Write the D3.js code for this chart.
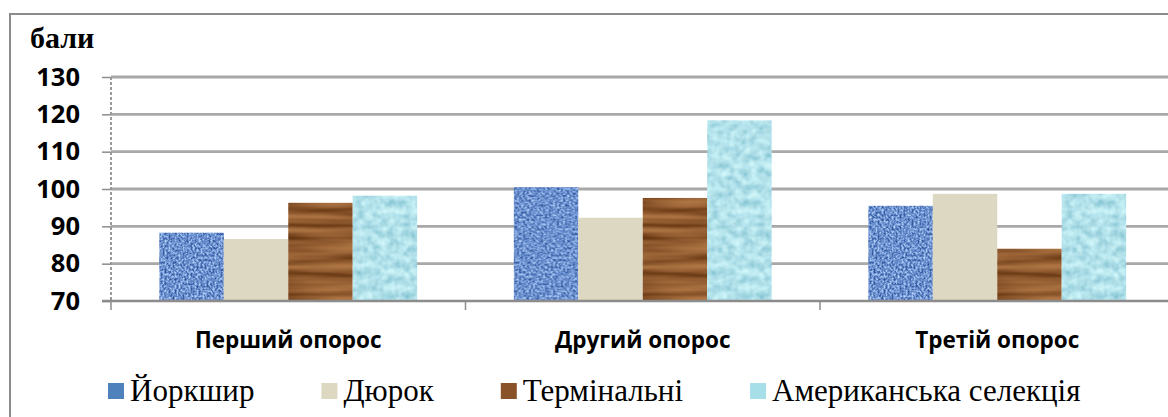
<!DOCTYPE html>
<html>
<head>
<meta charset="utf-8">
<script src="https://cdn.jsdelivr.net/npm/d3@7"></script>
<style>
  html, body { margin: 0; padding: 0; background: #fff; }
  svg { display: block; }
</style>
</head>
<body>
<svg id="chart" width="1168" height="417"></svg>
<script>
// Farrowing scores by breed group
const categories = ["Перший опорос", "Другий опорос", "Третій опорос"];
const seriesNames = ["Йоркшир", "Дюрок", "Термінальні", "Американська селекція"];
const yorkshire = [88.3, 100.5, 95.5];
const duroc = [86.6, 92.3, 98.7];
const terminal = [96.3, 97.6, 84.0];
const american = [98.2, 118.4, 98.7];
const yTicks = [70, 80, 90, 100, 110, 120, 130];
const yTitle = "бали";

const seriesValues = [yorkshire, duroc, terminal, american];
const svg = d3.select("#chart");
const W = 1168, H = 417;

// ---- textures for bar fills ----
const defs = svg.append("defs");

function noiseTexture(id, freq, octaves, seed, rTab, gTab, bTab) {
  const f = defs.append("filter")
    .attr("id", id + "-flt")
    .attr("filterUnits", "userSpaceOnUse")
    .attr("x", 0).attr("y", 0).attr("width", W).attr("height", H)
    .attr("color-interpolation-filters", "sRGB");
  f.append("feTurbulence")
    .attr("type", "fractalNoise")
    .attr("baseFrequency", freq)
    .attr("numOctaves", octaves)
    .attr("seed", seed)
    .attr("result", "noise");
  f.append("feColorMatrix")
    .attr("type", "matrix")
    .attr("values", "1 0 0 0 0  1 0 0 0 0  1 0 0 0 0  0 0 0 0 1")
    .attr("result", "grey");
  const ct = f.append("feComponentTransfer");
  ct.append("feFuncR").attr("type", "table").attr("tableValues", rTab.join(" "));
  ct.append("feFuncG").attr("type", "table").attr("tableValues", gTab.join(" "));
  ct.append("feFuncB").attr("type", "table").attr("tableValues", bTab.join(" "));

  const p = defs.append("pattern")
    .attr("id", id)
    .attr("patternUnits", "userSpaceOnUse")
    .attr("x", 0).attr("y", 0).attr("width", W).attr("height", H);
  p.append("rect")
    .attr("width", W).attr("height", H)
    .attr("fill", "#888")
    .attr("filter", `url(#${id}-flt)`);
}

function ramp(hexes) {
  const cs = hexes.map(h => d3.rgb(h));
  return [cs.map(c => (c.r / 255).toFixed(3)),
          cs.map(c => (c.g / 255).toFixed(3)),
          cs.map(c => (c.b / 255).toFixed(3))];
}

// blue woven cloth
{
  const [r, g, b] = ramp(["#264a8a", "#264a8a", "#3a60a4", "#5a80c2", "#80a3dd", "#a6c3f1", "#c4daf9", "#c4daf9"]);
  noiseTexture("tex-york", "0.5 0.42", 2, 3, r, g, b);
}
// wood planks
{
  const [r, g, b] = ramp(["#5c3010", "#5c3010", "#74421a", "#8a552b", "#9a6336", "#a8703f", "#b57d4c", "#b57d4c"]);
  noiseTexture("tex-term", "0.01 0.14", 2, 7, r, g, b);
}
// pale aqua marble
{
  const [r, g, b] = ramp(["#86c6d4", "#86c6d4", "#9dd4df", "#addde7", "#b9e7ef", "#c6f0f5", "#d2f7fa", "#d2f7fa"]);
  noiseTexture("tex-amer", "0.13", 2, 11, r, g, b);
}

const barFills = ["url(#tex-york)", "#ddd8c2", "url(#tex-term)", "url(#tex-amer)"];
const legendFills = ["#4f81bd", "#ddd8c2", "#8a5228", "#a7dfe9"];

// ---- outer frame ----
svg.append("rect")
  .attr("x", 10).attr("y", 14)
  .attr("width", 1400).attr("height", 600)
  .attr("fill", "none")
  .attr("stroke", "#8c8c8c")
  .attr("stroke-width", 2);

// ---- scales ----
const plotLeft = 111, plotRight = 1174.5, plotTop = 77, plotBottom = 301;

const x0 = d3.scaleBand()
  .domain(categories)
  .range([plotLeft, plotRight])
  .paddingInner(0).paddingOuter(0);

const x1 = d3.scaleBand()
  .domain(seriesNames)
  .range([0, x0.bandwidth()])
  .paddingInner(0).paddingOuter(0.75);

const y = d3.scaleLinear()
  .domain([d3.min(yTicks), d3.max(yTicks)])
  .range([plotBottom, plotTop]);

// ---- gridlines ----
svg.append("g")
  .selectAll("line")
  .data(yTicks.slice(1))
  .join("line")
  .attr("x1", plotLeft).attr("x2", W)
  .attr("y1", d => y(d)).attr("y2", d => y(d))
  .attr("stroke", "#a8a8a8")
  .attr("stroke-width", 2.8);

// ---- bars ----
const groups = svg.append("g")
  .selectAll("g")
  .data(categories)
  .join("g")
  .attr("transform", d => `translate(${x0(d)},0)`);

groups.selectAll("rect")
  .data((c, ci) => seriesNames.map((s, si) => ({ s, si, v: seriesValues[si][ci] })))
  .join("rect")
  .attr("x", d => x1(d.s))
  .attr("width", x1.bandwidth())
  .attr("y", d => y(d.v))
  .attr("height", d => y(70) - y(d.v))
  .attr("fill", d => barFills[d.si]);

// ---- y axis ----
const yAxis = svg.append("g")
  .attr("transform", `translate(${plotLeft},0)`)
  .call(d3.axisLeft(y).tickValues(yTicks).tickSize(9).tickPadding(22));
yAxis.select(".domain")
  .attr("stroke", "#9a9a9a")
  .attr("stroke-width", 2)
  .attr("stroke-dasharray", "3 2")
  .attr("d", `M0,${plotTop}V${plotBottom}`);
yAxis.selectAll(".tick line")
  .attr("stroke", "#8c8c8c")
  .attr("stroke-width", 1.5);
yAxis.selectAll(".tick text")
  .attr("fill", "#000")
  .attr("font-family", "'Open Sans', sans-serif")
  .attr("font-weight", "bold")
  .attr("font-size", 25.5);

// ---- x axis ----
const xAxis = svg.append("g")
  .attr("transform", `translate(0,${plotBottom})`);
xAxis.append("line")
  .attr("x1", plotLeft - 9).attr("x2", W)
  .attr("y1", 0).attr("y2", 0)
  .attr("stroke", "#8c8c8c")
  .attr("stroke-width", 2.5);
xAxis.selectAll("line.sep")
  .data(categories)
  .join("line")
  .attr("class", "sep")
  .attr("x1", d => x0(d)).attr("x2", d => x0(d))
  .attr("y1", 0).attr("y2", 9)
  .attr("stroke", "#8c8c8c")
  .attr("stroke-width", 1.5);
xAxis.selectAll("text")
  .data(categories)
  .join("text")
  .attr("x", d => x0(d) + x0.bandwidth() / 2)
  .attr("y", 47)
  .attr("text-anchor", "middle")
  .attr("font-family", "'Open Sans', sans-serif")
  .attr("font-weight", "bold")
  .attr("font-size", 22.5)
  .text(d => d);

// ---- axis title ----
svg.append("text")
  .attr("x", 30).attr("y", 48)
  .attr("font-family", "'Liberation Serif', 'Times New Roman', serif")
  .attr("font-weight", "bold")
  .attr("font-size", 30)
  .text(yTitle);

// ---- legend ----
const legend = svg.append("g");
let lx = 108;
seriesNames.forEach((name, i) => {
  const item = legend.append("g").attr("transform", `translate(${lx},0)`);
  item.append("rect")
    .attr("x", 0).attr("y", 383)
    .attr("width", 16).attr("height", 16)
    .attr("fill", legendFills[i]);
  const t = item.append("text")
    .attr("x", 22).attr("y", 401)
    .attr("font-family", "'Liberation Serif', 'Times New Roman', serif")
    .attr("font-size", 31)
    .text(name);
  lx += 22 + t.node().getComputedTextLength() + 67;
});
</script>
</body>
</html>
